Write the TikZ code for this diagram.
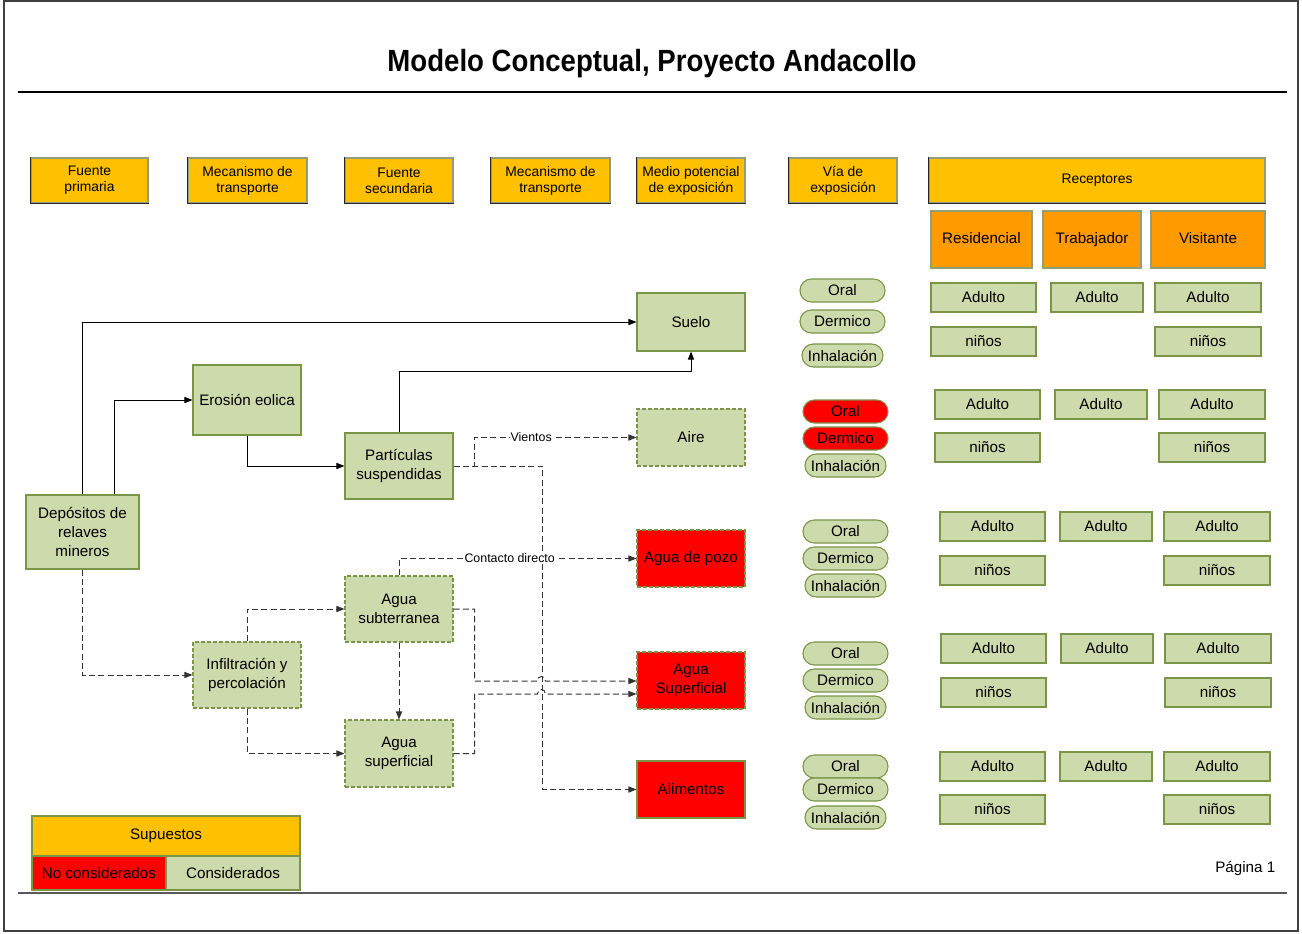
\documentclass[tikz,border=0pt]{standalone}
\usepackage{graphicx}
\usepackage{fontspec}
\setmainfont{Liberation Sans}
\usetikzlibrary{arrows.meta,calc}

\definecolor{amber}{HTML}{FFC000}
\definecolor{orng}{HTML}{FF9A00}
\definecolor{leaf}{HTML}{CDDAAB}
\definecolor{edgec}{HTML}{7A9448}
\definecolor{alarm}{HTML}{FF0000}

\newcommand\mainfs{\fontsize{11.4}{14}\selectfont}
\newcommand\hdrfs{\fontsize{10.4}{12}\selectfont}
\newcommand\lblfs{\fontsize{9.3}{11}\selectfont}

% box given by its corners in page units: style, name, x1, y1, x2, y2, text
\newcommand\bx[7]{%
  \node[#1, minimum width={((#5)-(#3))*0.75pt}, minimum height={((#6)-(#4))*0.75pt}]
    (#2) at ({((#3)+(#5))/2},{((#4)+(#6))/2}) {#7};}

\tikzset{
  box/.style={draw=edgec, line width=0.8pt, fill=leaf, inner sep=1pt, align=center, font=\mainfs},
  dbox/.style={box, dash pattern=on 3pt off 1.5pt},
  hdr/.style={draw=edgec!60!black!60, line width=0.8pt, fill=amber, inner sep=1pt, align=center, font=\hdrfs},
  subhdr/.style={hdr, draw=edgec!80!black!70, fill=orng, font=\mainfs, text height=8.2pt, text depth=2.4pt},
  pill/.style={box, rounded corners=8.5pt},
  con/.style={line width=0.75pt, -{Triangle[length=6pt,width=4.6pt]}},
  dcon/.style={con, black!80, dash pattern=on 4.5pt off 2.5pt},
  lbl/.style={fill=white, inner sep=0.6pt, font=\lblfs, text=black},
}

\begin{document}
\begin{tikzpicture}[x=0.75pt,y=-0.75pt]
\useasboundingbox (0,0) rectangle (1302,933);

% page frame and rules
\draw[black!75, line width=1pt] (4,1) rectangle (1298,931);
\draw[black, line width=1.5pt] (18,92) -- (1287,92);
\draw[black!65, line width=1.5pt] (18,893) -- (1287,893);

\node[anchor=base] (title) at (652,71)
  {\scalebox{0.9}[1]{\fontsize{23}{26}\selectfont\bfseries Modelo Conceptual, Proyecto Andacollo}};

% column headers
\bx{hdr}{h1}{31}{158}{148}{203}{Fuente\\primaria}
\bx{hdr}{h2}{188}{158}{307}{203}{Mecanismo de\\transporte}
\bx{hdr}{h3}{345}{158}{453}{203}{Fuente\\secundaria}
\bx{hdr}{h4}{491}{158}{610}{203}{Mecanismo de\\transporte}
\bx{hdr}{h5}{637}{158}{745}{203}{Medio potencial\\de exposición}
\bx{hdr}{h6}{789}{158}{897}{203}{Vía de\\exposición}
\bx{hdr}{h7}{929}{158}{1265}{203}{Receptores}
\foreach \n in {h1,h2,h3,h4,h5,h6,h7}
  \draw[black!85, line width=0.9pt] (\n.north west) -- (\n.south west) -- (\n.south east);
\bx{subhdr}{r1}{931}{211}{1032}{268}{Residencial}
\bx{subhdr}{r2}{1043}{211}{1141}{268}{Trabajador}
\bx{subhdr}{r3}{1151}{211}{1265}{268}{Visitante}

% sources, transport and media
\bx{box}{dep}{26}{495}{139}{569}{Depósitos de\\relaves\\mineros}
\bx{box}{eros}{193}{365}{301}{435}{Erosión eolica}
\bx{box}{part}{345}{433}{453}{499}{Partículas\\suspendidas}
\bx{dbox}{infil}{193}{642}{301}{708}{Infiltración y\\percolación}
\bx{dbox}{asub}{345}{576}{453}{642}{Agua\\subterranea}
\bx{dbox}{asup}{345}{720}{453}{787}{Agua\\superficial}
\bx{box}{suelo}{637}{293}{745}{351}{Suelo}
\bx{dbox}{aire}{637}{409}{745}{466}{Aire}
\bx{dbox,fill=alarm}{pozo}{637}{530}{745}{587}{Agua de pozo}
\bx{dbox,fill=alarm}{asupR}{637}{652}{745}{709}{Agua\\Superficial}
\bx{box,fill=alarm}{alim}{637}{761}{745}{818}{Alimentos}

% exposure routes
\foreach \r/\px/\yo/\yd/\yi/\fo in {1/0/279/310/344/leaf, 2/3/400/427/454/alarm,
    3/3/520/547/574/leaf, 4/3/642/669/696/leaf, 5/3/755/778/806/leaf}{
  \bx{pill,fill=\fo}{oral\r}{800+\px}{\yo}{885+\px}{\yo+23}{Oral}
  \bx{pill,fill=\fo}{derm\r}{800+\px}{\yd}{885+\px}{\yd+23}{Dermico}
  \bx{pill}{inh\r}{802+\px}{\yi}{883+\px}{\yi+23}{Inhalación}
}

% receptors
\foreach \r/\dx/\ya/\yb in {1/0/283/327, 2/4/390/433, 3/9/512/556, 4/10/634/678, 5/9/752/795}{
  \bx{box}{ra\r}{931+\dx}{\ya}{1036+\dx}{\ya+29}{Adulto}
  \bx{box}{ta\r}{1051+\dx}{\ya}{1143+\dx}{\ya+29}{Adulto}
  \bx{box}{va\r}{1155+\dx}{\ya}{1261+\dx}{\ya+29}{Adulto}
  \bx{box}{rn\r}{931+\dx}{\yb}{1036+\dx}{\yb+29}{niños}
  \bx{box}{vn\r}{1155+\dx}{\yb}{1261+\dx}{\yb+29}{niños}
}

% legend
\bx{box,fill=amber}{sup}{32}{816}{300}{856}{Supuestos}
\bx{box,fill=alarm}{nocons}{32}{856}{166}{890}{No considerados}
\bx{box}{cons}{166}{856}{300}{890}{Considerados}

\node[anchor=east, font=\mainfs] (pag) at (1280,868) {Página 1};

% solid pathways
\draw[con] (dep.north) |- (suelo.west);
\draw[con] ($(dep.north)+(31.5,0)$) |- (eros.west);
\draw[con] (eros.south) |- (part.west);
\draw[con] (part.north) -- ++(0,-61) -| (suelo.south);

% dashed pathways
\draw[dcon] (part.east) -- ++(21,0) |- node[lbl, pos=0.675] {Vientos} (aire.west);
\draw[dcon] (part.east) -- ++(89,0) |- (alim.west);
\draw[dcon] (dep.south) |- (infil.west);
\draw[dcon] (infil.north) |- (asub.west);
\draw[dcon] (infil.south) |- (asup.west);
\draw[dcon] (asub.south) -- (asup.north);
\draw[dcon] (asub.north) |- node[lbl, pos=0.733] {Contacto directo} (pozo.west);

\coordinate (in1) at ($(asupR.west)+(0,0.5)$);
\coordinate (in2) at ($(asupR.west)+(0,13.5)$);
\draw[dcon] (asub.east) -- ++(21,0) |- ($(in1)+(-99,0)$)
  .. controls ($(in1)+(-99,-6)$) and ($(in1)+(-91,-6)$) .. ($(in1)+(-91,0)$) -- (in1);
\draw[dcon] (asup.east) -- ++(21,0) |- ($(in2)+(-99,0)$)
  .. controls ($(in2)+(-99,-6)$) and ($(in2)+(-91,-6)$) .. ($(in2)+(-91,0)$) -- (in2);
\end{tikzpicture}
\end{document}
